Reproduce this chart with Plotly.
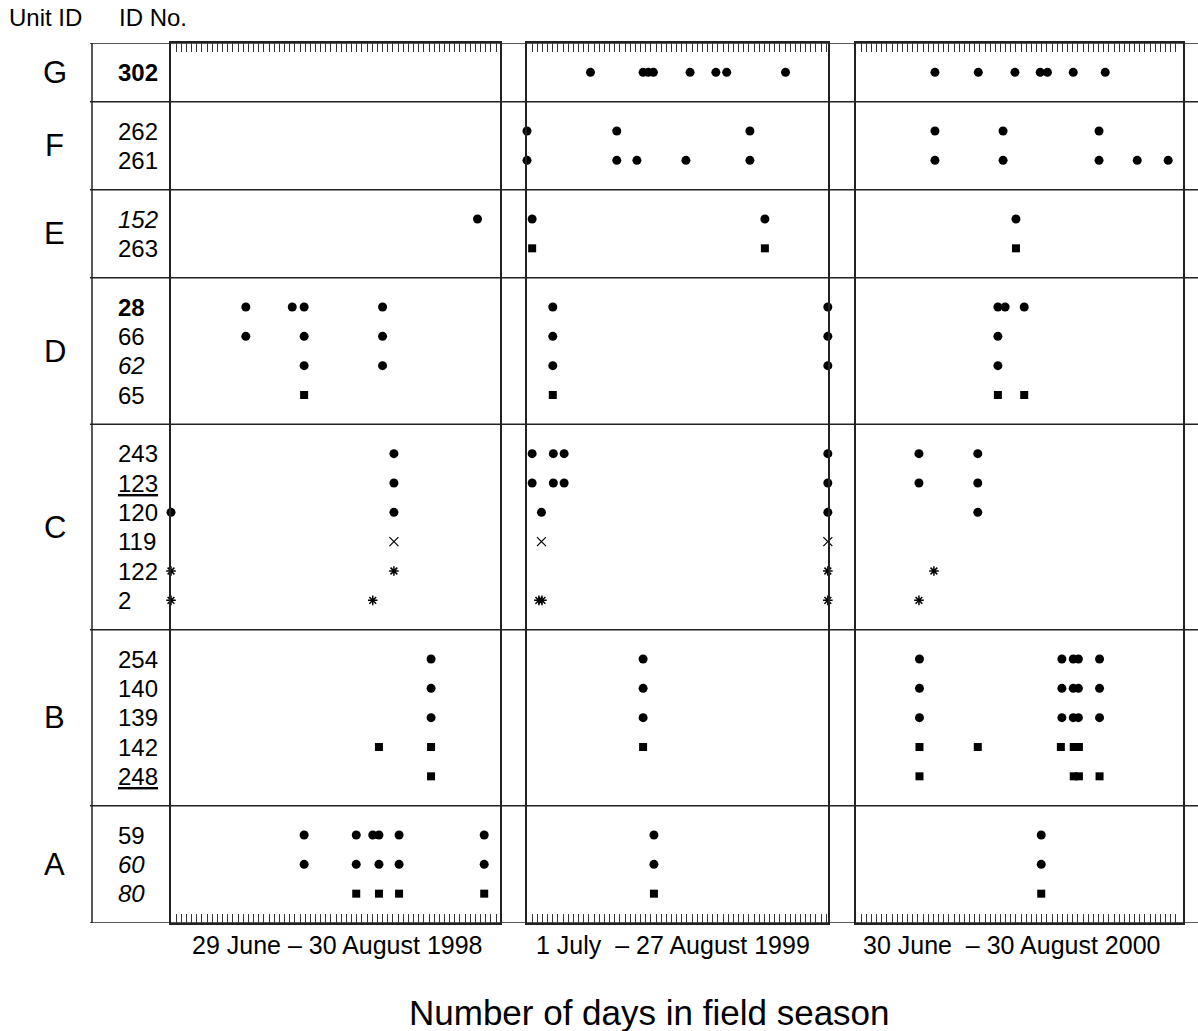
import plotly.graph_objects as go

# ---------------- data ----------------
id_labels = ["302", "262", "261", "152", "263", "28", "66", "62", "65",
             "243", "123", "120", "119", "122", "2",
             "254", "140", "139", "142", "248", "59", "60", "80"]
id_styles = ["bold", "", "", "italic", "", "bold", "", "italic", "",
             "", "underline", "", "", "", "",
             "", "", "", "", "underline", "", "italic", "italic"]
row_positions = [1, 3, 4, 6, 7, 9, 10, 11, 12,
                 14, 15, 16, 17, 18, 19,
                 21, 22, 23, 24, 25, 27, 28, 29]
row_symbols = ["circle", "circle", "circle", "circle", "square", "circle", "circle", "circle", "square",
               "circle", "circle", "circle", "x", "asterisk", "asterisk",
               "circle", "circle", "circle", "square", "square", "circle", "circle", "square"]

unit_letters = ["G", "F", "E", "D", "C", "B", "A"]
unit_bounds = [0, 2, 5, 8, 13, 20, 26, 30]

season_labels = ["29 June \u2013 30 August 1998",
                 "1 July\u00a0 \u2013 27 August 1999",
                 "30 June\u00a0 \u2013 30 August 2000"]
season_days = [63, 58, 62]

days_1998 = [
    [],                                   # 302
    [],                                   # 262
    [],                                   # 261
    [59.4],                               # 152
    [],                                   # 263
    [14.5, 23.5, 25.8, 41.0],             # 28
    [14.5, 25.8, 41.0],                   # 66
    [25.8, 41.0],                         # 62
    [25.8],                               # 65
    [43.2],                               # 243
    [43.2],                               # 123
    [0, 43.2],                            # 120
    [43.2],                               # 119
    [0, 43.2],                            # 122
    [0, 39.1],                            # 2
    [50.4],                               # 254
    [50.4],                               # 140
    [50.4],                               # 139
    [40.3, 50.4],                         # 142
    [50.4],                               # 248
    [25.8, 35.9, 39.1, 40.3, 44.2, 60.7], # 59
    [25.8, 35.9, 40.3, 44.2, 60.7],       # 60
    [35.9, 40.3, 44.2, 60.7],             # 80
]

days_1999 = [
    [12.3, 22.5, 23.5, 24.5, 31.6, 36.6, 38.7, 50.1],  # 302
    [0, 17.4, 43.2],                      # 262
    [0, 17.4, 21.3, 30.8, 43.2],          # 261
    [1.0, 46.1],                          # 152
    [1.0, 46.1],                          # 263
    [5.0, 58.3],                          # 28
    [5.0, 58.3],                          # 66
    [5.0, 58.3],                          # 62
    [5.0],                                # 65
    [1.0, 5.1, 7.2, 58.3],                # 243
    [1.0, 5.1, 7.2, 58.3],                # 123
    [2.8, 58.3],                          # 120
    [2.8, 58.3],                          # 119
    [58.3],                               # 122
    [2.3, 2.9, 58.3],                     # 2
    [22.5],                               # 254
    [22.5],                               # 140
    [22.5],                               # 139
    [22.5],                               # 142
    [],                                   # 248
    [24.6],                               # 59
    [24.6],                               # 60
    [24.6],                               # 80
]

days_2000 = [
    [15.3, 23.7, 30.8, 35.7, 37.1, 42.1, 48.3],  # 302
    [15.3, 28.5, 47.1],                   # 262
    [15.3, 28.5, 47.1, 54.5, 60.5],       # 261
    [31.0],                               # 152
    [31.0],                               # 263
    [27.5, 28.9, 32.6],                   # 28
    [27.5],                               # 66
    [27.5],                               # 62
    [27.5, 32.6],                         # 65
    [12.2, 23.6],                         # 243
    [12.2, 23.6],                         # 123
    [23.6],                               # 120
    [],                                   # 119
    [15.1],                               # 122
    [12.2],                               # 2
    [12.3, 39.9, 42.1, 43.1, 47.2],       # 254
    [12.3, 39.9, 42.1, 43.1, 47.2],       # 140
    [12.3, 39.9, 42.1, 43.1, 47.2],       # 139
    [12.3, 23.6, 39.7, 42.2, 43.2],       # 142
    [12.3, 42.2, 43.2, 47.2],             # 248
    [35.9],                               # 59
    [35.9],                               # 60
    [35.9],                               # 80
]

# ---------------- figure ----------------
W, H = 1198, 1031
TOP, BOTTOM = 43, 923
FONT = "Liberation Sans, Arial, Helvetica, sans-serif"
LINE = "#222222"


def px(v):
    return v / W


def py(v):
    return (BOTTOM - v) / (BOTTOM - TOP)


marker_styles = {
    "circle": dict(symbol="circle", size=9, color="black"),
    "square": dict(symbol="square", size=8, color="black"),
    "x": dict(symbol="x-thin-open", size=9, color="black", line=dict(width=1.2, color="black")),
    "asterisk": dict(symbol="asterisk-open", size=8, color="black", line=dict(width=1.5, color="black")),
}

fig = go.Figure()
panels = [(days_1998, "x", "y"), (days_1999, "x2", "y2"), (days_2000, "x3", "y3")]
for days, xa, ya in panels:
    for sym, style in marker_styles.items():
        xs, ys = [], []
        for i, row_days in enumerate(days):
            if row_symbols[i] == sym:
                xs += row_days
                ys += [row_positions[i]] * len(row_days)
        if xs:
            fig.add_trace(go.Scatter(x=xs, y=ys, mode="markers", xaxis=xa, yaxis=ya,
                                     marker=style, cliponaxis=False, showlegend=False,
                                     hoverinfo="skip"))

panel_px = [(171, 500), (527, 828), (856, 1183)]
px_per_day = 5.16


def xaxis_cfg(i):
    a, b = panel_px[i]
    return dict(domain=[px(a), px(b)], range=[0, (b - a) / px_per_day],
                showgrid=False, zeroline=False, showticklabels=False,
                tickmode="array", tickvals=list(range(1, season_days[i] + 1)),
                ticks="inside", ticklen=9, tickwidth=1, tickcolor="#333",
                showline=True, linecolor=LINE, linewidth=1.5, mirror="ticks",
                anchor=["y", "y2", "y3"][i], fixedrange=True)


def yaxis_cfg(i):
    return dict(domain=[0, 1], range=[unit_bounds[-1], unit_bounds[0]],
                showgrid=False, zeroline=False, showticklabels=False, ticks="",
                showline=True, linecolor=LINE, linewidth=1.5, mirror=True,
                anchor=["x", "x2", "x3"][i], fixedrange=True)


shapes = []
for b in unit_bounds:
    shapes.append(dict(type="line", xref="paper", yref="y", x0=px(90), x1=1, y0=b, y1=b,
                       line=dict(color=LINE, width=1.5), layer="below"))
shapes.append(dict(type="line", xref="paper", yref="y", x0=px(92), x1=px(92),
                   y0=unit_bounds[0], y1=unit_bounds[-1], line=dict(color=LINE, width=1.5),
                   layer="below"))

annotations = []
for lab, sty, pos in zip(id_labels, id_styles, row_positions):
    txt = lab
    if sty == "bold":
        txt = f"<b>{lab}</b>"
    elif sty == "italic":
        txt = f"<i>{lab}</i>"
    elif sty == "underline":
        txt = f"<u>{lab}</u>"
    annotations.append(dict(text=txt, x=px(116), xref="paper", xanchor="left",
                            y=pos, yref="y", yanchor="middle", showarrow=False,
                            font=dict(family=FONT, size=24, color="black")))
for k, letter in enumerate(unit_letters):
    annotations.append(dict(text=letter, x=px(55), xref="paper", xanchor="center",
                            y=(unit_bounds[k] + unit_bounds[k + 1]) / 2, yref="y",
                            yanchor="middle", showarrow=False,
                            font=dict(family=FONT, size=31, color="black")))
annotations.append(dict(text="Unit ID", x=px(7), xref="paper", xanchor="left",
                        y=py(17), yref="paper", yanchor="middle", showarrow=False,
                        font=dict(family=FONT, size=24, color="black")))
annotations.append(dict(text="ID No.", x=px(117), xref="paper", xanchor="left",
                        y=py(17), yref="paper", yanchor="middle", showarrow=False,
                        font=dict(family=FONT, size=24, color="black")))
for lab, cx in zip(season_labels, [337, 673, 1011]):
    annotations.append(dict(text=lab, x=px(cx), xref="paper", xanchor="center",
                            y=py(945), yref="paper", yanchor="middle", showarrow=False,
                            font=dict(family=FONT, size=25, color="black")))
annotations.append(dict(text="Number of days in field season", x=px(649), xref="paper",
                        xanchor="center", y=py(1012), yref="paper", yanchor="middle",
                        showarrow=False, font=dict(family=FONT, size=35, color="black")))

fig.update_layout(
    width=W, height=H,
    margin=dict(l=0, r=0, t=TOP, b=H - BOTTOM, pad=0),
    paper_bgcolor="white", plot_bgcolor="white",
    xaxis=xaxis_cfg(0), xaxis2=xaxis_cfg(1), xaxis3=xaxis_cfg(2),
    yaxis=yaxis_cfg(0), yaxis2=yaxis_cfg(1), yaxis3=yaxis_cfg(2),
    shapes=shapes, annotations=annotations, showlegend=False,
)

fig.write_html("out.html", config={"displayModeBar": False})
